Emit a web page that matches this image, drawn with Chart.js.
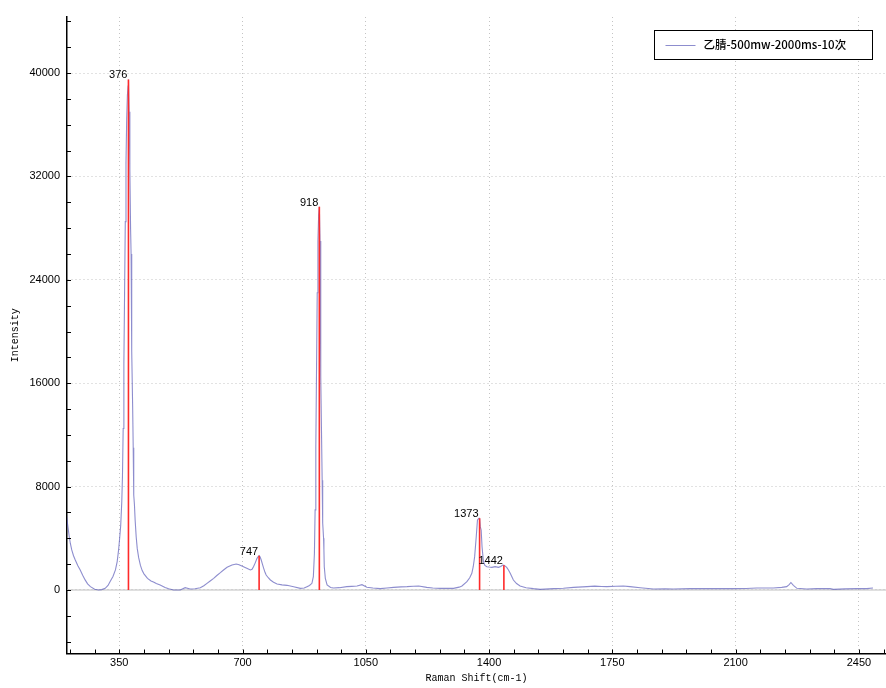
<!DOCTYPE html>
<html>
<head>
<meta charset="utf-8">
<title>乙腈 Raman</title>
<script src="https://cdn.jsdelivr.net/npm/chart.js@4/dist/chart.umd.min.js"></script>
<style>
    body { margin: 0; background: #fff; }
    #wrap { width: 886px; height: 688px; }
</style>
</head>
<body>
<div id="wrap"><canvas id="spectrum" width="886" height="688"></canvas></div>
<script>
const seriesLabel = '乙腈-500mw-2000ms-10次'

// spectrum (cm-1 / counts)
const ramanShift = [
    200, 204, 208, 211, 215, 220, 225, 232, 239, 246, 253, 260, 268, 280, 291, 300, 310, 318, 324, 332,
    339, 344, 348, 351, 354, 357, 359, 361, 363, 365, 367, 369, 371, 373, 375, 376, 378, 380, 382, 383.5,
    384.5, 386, 388, 389.5, 390.5, 391.5, 393, 395, 398, 401, 405, 410, 415, 420, 430, 440, 447, 455, 466, 480,
    490, 504, 523, 537, 551, 565, 580, 590, 599, 608, 618, 627, 637, 646, 656, 670, 682, 690, 698, 712,
    722, 727, 731, 736, 741, 745, 747, 750, 753, 757, 760, 764, 767, 773, 779, 788, 798, 812, 826, 845,
    864, 875, 883, 890, 897, 901, 904, 906, 908, 910, 912, 914, 916, 918, 920, 921.5, 922.5, 924, 926, 927,
    928, 930, 931, 932, 935, 940, 950, 958, 975, 996, 1010, 1025, 1039, 1053, 1070, 1091, 1110, 1129, 1150, 1167,
    1185, 1200, 1223, 1240, 1261, 1299, 1315, 1323, 1337, 1345, 1351, 1355, 1359, 1363.5, 1367, 1371, 1373, 1375, 1377.5, 1380,
    1384, 1388, 1393.7, 1400, 1408, 1417, 1426.7, 1433, 1439, 1442, 1446, 1450, 1455, 1460, 1465, 1469, 1478, 1488, 1505, 1526,
    1545, 1583, 1611, 1640, 1678, 1700, 1720, 1734, 1760, 1781, 1800, 1829, 1867, 1900, 1923, 1971, 2037, 2094, 2130, 2160,
    2207, 2231, 2245, 2252, 2257, 2264, 2274, 2302, 2330, 2368, 2378, 2410, 2444, 2472, 2490
]
const intensity = [
    5800, 4900, 4100, 3600, 3100, 2650, 2320, 1900, 1550, 1150, 780, 480, 260, 60, 0, 30, 130, 350, 650, 1050,
    1550, 2200, 3100, 4000, 5000, 6800, 8800, 12500, 17500, 23000, 28500, 33000, 36500, 38300, 39000, 39500, 37000, 32500, 28000, 26000,
    20900, 18500, 14000, 11000, 9300, 7350, 6600, 5400, 4100, 3200, 2500, 1900, 1500, 1250, 900, 700, 620, 500, 390, 200,
    90, 0, 0, 180, 80, 100, 180, 330, 516, 700, 903, 1120, 1340, 1550, 1754, 1934, 2011, 1960, 1857, 1676,
    1547, 1600, 1805, 2100, 2450, 2600, 2654, 2550, 2320, 1950, 1676, 1350, 1160, 950, 774, 600, 464, 400, 361, 258,
    129, 150, 258, 350, 516, 1030, 2800, 6200, 11000, 17000, 23000, 27000, 29000, 29650, 27000, 21400, 16500, 12500, 8500, 8100,
    5200, 4000, 3100, 1800, 900, 400, 200, 155, 180, 258, 280, 310, 413, 206, 150, 103, 150, 206, 240, 258,
    290, 310, 206, 160, 129, 129, 220, 310, 645, 950, 1290, 1800, 2580, 4126, 5416, 5545, 5547, 4900, 4640, 3350,
    2190, 1900, 1805, 1780, 1754, 1805, 1754, 1820, 1934, 1911, 1850, 1754, 1550, 1290, 1000, 774, 500, 310, 180, 103,
    50, 103, 130, 206, 258, 300, 270, 258, 290, 310, 260, 180, 77, 90, 77, 103, 103, 103, 120, 155,
    155, 206, 258, 420, 580, 361, 129, 77, 110, 103, 52, 90, 103, 103, 155
]

// marked peaks
const peakShift = [376, 747, 918, 1373, 1442]
const peakIntensity = [39500, 2654, 29650, 5547, 1911]

// axes
const xRange = [201.5, 2527]
const yRange = [-4913, 44333]
const xTicks = [350, 700, 1050, 1400, 1750, 2100, 2450]
const yTicks = [0, 8000, 16000, 24000, 32000, 40000]
const xMinorStep = 70
const yMinorStep = 2000

const lineColor = 'rgba(80, 80, 180, 0.65)'
const tickFont = { family: '"Liberation Sans", Arial, sans-serif', size: 11 }
const titleFont = { family: '"Liberation Mono", monospace', size: 10 }

const spectrumPoints = ramanShift.map((x, i) => ({ x, y: intensity[i] }))

let peakPoints = []
peakShift.forEach((s, i) => {
    peakPoints.push({ x: s, y: 0 }, { x: s, y: peakIntensity[i] }, { x: s, y: null })
})

const decor = {
    id: 'decor',
    afterDatasetsDraw(chart) {
        const { ctx, scales: { x, y } } = chart
        ctx.save()
        ctx.font = '11px "Liberation Sans", Arial, sans-serif'
        ctx.fillStyle = '#000'
        ctx.textAlign = 'right'
        ctx.textBaseline = 'alphabetic'
        peakShift.forEach((s, i) => {
            ctx.fillText(String(s), x.getPixelForValue(s) - 1, y.getPixelForValue(peakIntensity[i]) - 1)
        })
        ctx.restore()
    },
    afterDraw(chart) {
        const { ctx, chartArea: area, scales: { x, y } } = chart
        ctx.save()

        // minor ticks, drawn inside the plot
        ctx.strokeStyle = '#000'
        ctx.lineWidth = 1
        ctx.beginPath()
        for (let v = Math.ceil(xRange[0] / xMinorStep) * xMinorStep; v <= xRange[1]; v += xMinorStep) {
            let px = Math.round(x.getPixelForValue(v)) + 0.5
            ctx.moveTo(px, area.bottom)
            ctx.lineTo(px, area.bottom - 4)
        }
        for (let v = Math.ceil(yRange[0] / yMinorStep) * yMinorStep; v <= yRange[1]; v += yMinorStep) {
            let py = Math.round(y.getPixelForValue(v)) + 0.5
            ctx.moveTo(area.left, py)
            ctx.lineTo(area.left + 4, py)
        }
        ctx.stroke()

        // legend box
        const boxW = 218, boxH = 29
        const bx = Math.round(area.right - 14 - boxW) + 0.5
        const by = Math.round(area.top + 13) + 0.5
        ctx.fillStyle = '#fff'
        ctx.fillRect(bx, by, boxW, boxH)
        ctx.strokeStyle = '#000'
        ctx.strokeRect(bx, by, boxW, boxH)
        const cy = by + boxH / 2
        ctx.strokeStyle = lineColor
        ctx.beginPath()
        ctx.moveTo(bx + 11, Math.round(cy) + 0.5)
        ctx.lineTo(bx + 41, Math.round(cy) + 0.5)
        ctx.stroke()
        ctx.fillStyle = '#000'
        ctx.font = '500 11.5px "Noto Sans CJK SC", sans-serif'
        ctx.textAlign = 'left'
        ctx.textBaseline = 'middle'
        ctx.fillText(seriesLabel, bx + 49, cy)

        ctx.restore()
    }
}

new Chart(document.getElementById('spectrum'), {
    type: 'line',
    data: {
        datasets: [{
            label: 'peaks',
            data: peakPoints,
            borderColor: '#ff2a2a',
            borderWidth: 1.6,
            pointRadius: 0,
            spanGaps: false
        }, {
            label: seriesLabel,
            data: spectrumPoints,
            borderColor: lineColor,
            borderWidth: 1.1,
            pointRadius: 0,
            tension: 0
        }, {
            label: 'zero',
            data: [{ x: xRange[0], y: 0 }, { x: xRange[1], y: 0 }],
            borderColor: '#c0c0c0',
            borderWidth: 1.2,
            pointRadius: 0
        }]
    },
    options: {
        responsive: false,
        animation: false,
        events: [],
        layout: { padding: { top: 17, right: 0, bottom: 0, left: 0 } },
        plugins: {
            legend: { display: false },
            tooltip: { enabled: false }
        },
        scales: {
            x: {
                type: 'linear',
                min: xRange[0],
                max: xRange[1],
                afterBuildTicks: s => { s.ticks = xTicks.map(value => ({ value })) },
                afterFit: s => { s.height = 34.5 },
                ticks: { callback: v => String(v), font: tickFont, color: '#000', padding: 3, maxRotation: 0, autoSkip: false },
                grid: { color: '#c4c4c4', lineWidth: 1, drawTicks: false },
                border: { color: '#000', width: 1.5, dash: [1, 3] },
                title: { display: true, text: 'Raman Shift(cm-1)', font: titleFont, color: '#000', padding: { top: 0, bottom: 4 } }
            },
            y: {
                type: 'linear',
                min: yRange[0],
                max: yRange[1],
                afterBuildTicks: s => { s.ticks = yTicks.map(value => ({ value })) },
                afterFit: s => { s.width = 67 },
                ticks: { callback: v => String(v), font: tickFont, color: '#000', padding: 7 },
                grid: { color: '#c4c4c4', lineWidth: 1, drawTicks: false },
                border: { color: '#000', width: 1.5, dash: [1, 3] },
                title: { display: true, text: 'Intensity', font: titleFont, color: '#000', padding: 9 }
            }
        }
    },
    plugins: [decor]
})
</script>
</body>
</html>
